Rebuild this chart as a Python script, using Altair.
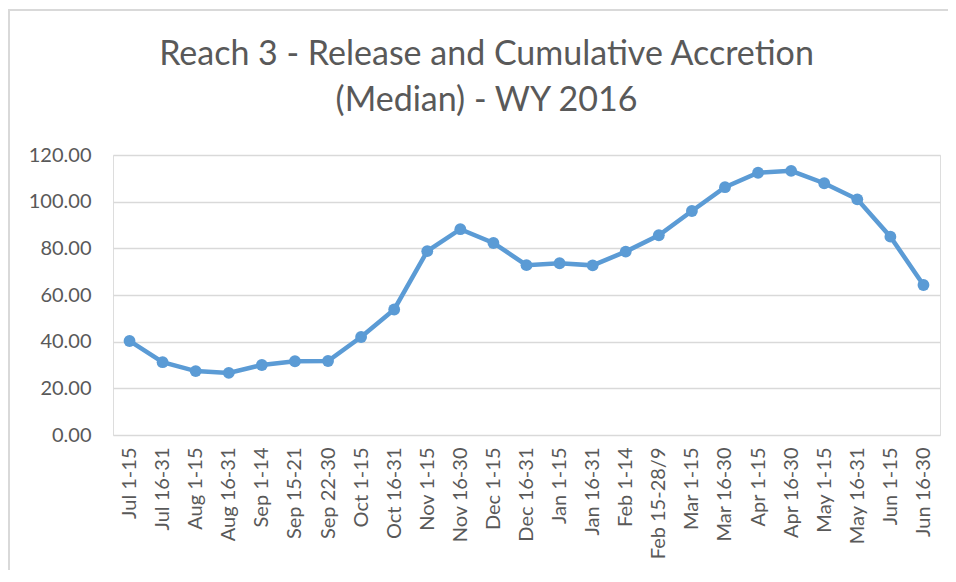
import altair as alt
import pandas as pd

periods = ["Jul 1-15", "Jul 16-31", "Aug 1-15", "Aug 16-31", "Sep 1-14", "Sep 15-21",
           "Sep 22-30", "Oct 1-15", "Oct 16-31", "Nov 1-15", "Nov 16-30", "Dec 1-15",
           "Dec 16-31", "Jan 1-15", "Jan 16-31", "Feb 1-14", "Feb 15-28/9", "Mar 1-15",
           "Mar 16-30", "Apr 1-15", "Apr 16-30", "May 1-15", "May 16-31", "Jun 1-15",
           "Jun 16-30"]
values = [40.3, 31.2, 27.4, 26.6, 30.0, 31.6, 31.7, 42.0, 53.8, 78.8, 88.2, 82.3,
          72.8, 73.6, 72.7, 78.6, 85.6, 96.0, 106.2, 112.4, 113.2, 107.9, 101.0, 85.0, 64.3]

df = pd.DataFrame({"period": periods, "value": values})

FONT = "Lato"
GREY = "#595959"
BLUE = "#5B9BD5"

x = alt.X("period:N", sort=periods, scale=alt.Scale(type="point", padding=0.5),
          axis=alt.Axis(title=None, labelAngle=-90, labelAlign="right", labelBaseline="middle",
                        labelPadding=12, ticks=False, domain=False, labelFontSize=20,
                        labelColor=GREY, labelFont=FONT, grid=False))
y = alt.Y("value:Q", scale=alt.Scale(domain=[0, 120], nice=False),
          axis=alt.Axis(title=None, values=[0, 20, 40, 60, 80, 100, 120], format=".2f",
                        ticks=False, domain=False, labelPadding=22, labelFontSize=20,
                        labelColor=GREY, labelFont=FONT, gridColor="#D9D9D9", gridWidth=1.5))

line = alt.Chart(df).mark_line(color=BLUE, strokeWidth=4.5).encode(x=x, y=y)
pts = alt.Chart(df).mark_point(color=BLUE, filled=True, opacity=1, size=140, shape="circle").encode(x=x, y=y)

border_top = alt.Chart(df).mark_rule(color="#D9D9D9", strokeWidth=2).encode(
    x=alt.value(-105), x2=alt.value(900), y=alt.value(-145))
border_left = alt.Chart(df).mark_rule(color="#D9D9D9", strokeWidth=2).encode(
    x=alt.value(-104), y=alt.value(-146), y2=alt.value(600))

chart = alt.layer(border_top, border_left, line, pts).properties(
    width=827, height=280,
    title=alt.Title(["Reach 3 - Release and Cumulative Accretion", "(Median) - WY 2016"],
                    font=FONT, fontSize=34, fontWeight="normal", color=GREY,
                    anchor="middle", dx=-40, offset=-110, lineHeight=46),
    autosize=alt.AutoSizeParams(type="none"),
    padding={"left": 105, "top": 147, "right": 8, "bottom": 135},
).configure_view(stroke=None).configure(background="white")

chart.save("out.html", embed_options={"renderer": "svg", "actions": False})
